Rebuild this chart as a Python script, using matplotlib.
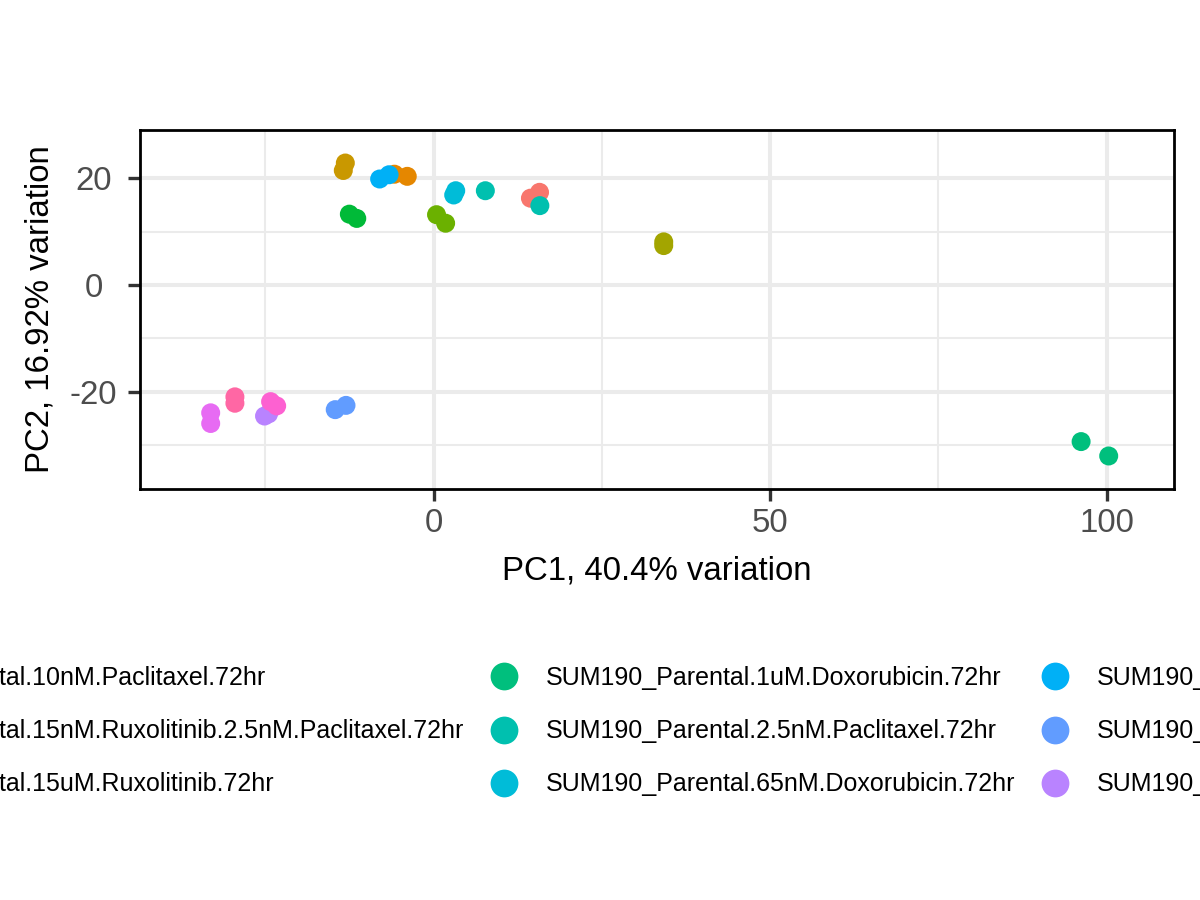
import matplotlib
matplotlib.use("Agg")
import matplotlib.pyplot as plt
from matplotlib.lines import Line2D

plt.rcParams['font.family'] = ['Liberation Sans', 'DejaVu Sans']
plt.rcParams['axes.unicode_minus'] = False

groups = [
    "SUM190_Parental.1.5nM.Paclitaxel.72hr",
    "SUM190_Parental.100nM.Doxorubicin.72hr",
    "SUM190_Parental.10nM.Doxorubicin.72hr",
    "SUM190_Parental.10nM.Paclitaxel.72hr",
    "SUM190_Parental.15nM.Ruxolitinib.2.5nM.Paclitaxel.72hr",
    "SUM190_Parental.15uM.Ruxolitinib.72hr",
    "SUM190_Parental.1uM.Doxorubicin.72hr",
    "SUM190_Parental.2.5nM.Paclitaxel.72hr",
    "SUM190_Parental.65nM.Doxorubicin.72hr",
    "SUM190_Parental.DMSO.72hr",
    "SUM190_RuxR.15nM.Ruxolitinib.2.5nM.Paclitaxel.72hr",
    "SUM190_RuxR.15uM.Ruxolitinib.72hr",
    "SUM190_RuxR.2.5nM.Paclitaxel.72hr",
    "SUM190_RuxR.DMSO.72hr",
    "SUM190_RuxR.Untreated.72hr",
]

# ggplot hue palette, 15 levels
colors = ["#F8766D", "#E58700", "#C99800", "#A3A500", "#6BB100",
          "#00BA38", "#00BF7D", "#00C0AF", "#00BCD8", "#00B0F6",
          "#619CFF", "#B983FF", "#E76BF3", "#FD61D1", "#FF67A4"]

# two samples per group
pc1 = [15.75, 14.4, -5.8, -3.9, -13.1, -13.4, 34.2, 34.2, 0.45, 1.8,
       -12.5, -11.4, 96.2, 100.3, 7.7, 15.8, 3.3, 3.0, -8.0, -6.6,
       -14.6, -13.0, -25.1, -24.5, -33.1, -33.1, -24.2, -23.3, -29.5, -29.5]
pc2 = [17.4, 16.3, 20.8, 20.4, 22.9, 21.5, 8.1, 7.4, 13.2, 11.6,
       13.3, 12.5, -29.4, -32.1, 17.7, 14.9, 17.7, 16.9, 19.9, 20.7,
       -23.4, -22.6, -24.6, -24.2, -24.0, -26.0, -21.9, -22.7, -21.0, -22.2]
group_idx = [i for i in range(len(groups)) for _ in range(2)]

fig = plt.figure(figsize=(12, 9), dpi=100)
ax = fig.add_axes([140/1200, 1-489/900, 1034/1200, 359/900])

for i in range(len(groups)):
    xs = [pc1[k] for k in range(len(pc1)) if group_idx[k] == i]
    ys = [pc2[k] for k in range(len(pc2)) if group_idx[k] == i]
    ax.scatter(xs, ys, s=187, color=colors[i], edgecolors='none', zorder=3)

ax.set_xlim(-43.6, 110.0)
ax.set_ylim(-38.3, 29.1)
ax.set_xticks([0, 50, 100])
ax.set_xticks([-25, 25, 75], minor=True)
ax.set_yticks([-20, 0, 20])
ax.set_yticks([-30, -10, 10], minor=True)
ax.grid(which='major', color='#EBEBEB', linewidth=2.9, zorder=0)
ax.grid(which='minor', color='#EBEBEB', linewidth=1.45, zorder=0)
ax.set_axisbelow(True)
for sp in ax.spines.values():
    sp.set_color('black')
    sp.set_linewidth(2.0)
ax.tick_params(which='major', length=8.5, width=2.4, color='#333333',
               labelsize=23.8, labelcolor='#4D4D4D')
ax.tick_params(axis='x', pad=5.5)
ax.tick_params(axis='y', pad=25)
ax.tick_params(which='minor', length=0)
for lab in ax.get_yticklabels():
    lab.set_horizontalalignment('center')

ax.set_xlabel("PC1, 40.4% variation", fontsize=23.8)
ax.set_ylabel("PC2, 16.92% variation", fontsize=23.8)
ax.xaxis.set_label_coords(0.5, -0.186)
ax.yaxis.set_label_coords(-0.082, 0.5)

handles = [Line2D([], [], marker='o', ls='', markersize=20, color=c,
                  markeredgewidth=0) for c in colors]
leg = fig.legend(handles, groups, ncol=5, loc='upper left',
                 bbox_to_anchor=(0.0, 0.3), frameon=False, fontsize=18,
                 handlelength=1.2, handletextpad=1.05, columnspacing=1.0,
                 labelspacing=1.17, borderaxespad=0, borderpad=0)

# shift legend so that the 7th entry sits where it does in the reference
fig.canvas.draw()
r = fig.canvas.get_renderer()
bb = leg.get_texts()[6].get_window_extent(r)
dx = (545.7 - bb.x0) / 1200
dy = ((900 - 678) - (bb.y0 + bb.y1) / 2) / 900
leg.set_bbox_to_anchor((0.0 + dx, 0.3 + dy), transform=fig.transFigure)

fig.savefig("out.png", dpi=100)
